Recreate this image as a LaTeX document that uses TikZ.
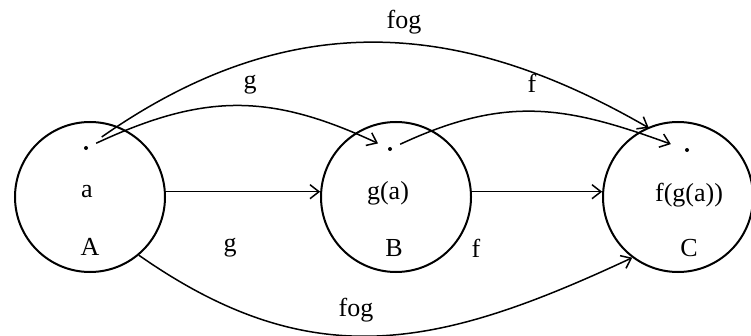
\documentclass[tikz,border=0pt]{standalone}
\usepackage{fontspec}
\setmainfont{Liberation Serif}
\usetikzlibrary{arrows.meta}

\begin{document}
\begin{tikzpicture}[x=1pt, y=1pt, font=\fontsize{26}{30}\selectfont,
  set/.style={draw, circle, line width=2pt, minimum size=150pt, inner sep=0pt},
  elem/.style={circle, fill, inner sep=0pt, minimum size=4pt},
  map/.style={line width=1.5pt, -{Straight Barb[length=9pt, width=14pt]}}]

  \useasboundingbox (0,0) rectangle (751,335);

  % the three sets
  \foreach \nm/\x in {A/90, B/396, C/678}
    \node[set] (\nm) at (\x,138) {};

  % one element in each set
  \foreach \nm/\x/\y in {da/86/187, db/390/186, dc/687/185}
    \node[elem] (\nm) at (\x,\y) {};

  \foreach \nm/\x/\y/\txt in {
    ta/87/143/a, tga/388/142/g(a), tfga/689/140/f(g(a)),
    nA/90/88/A, nB/394/87/B, nC/689/87/C
  } {
    \node (\nm) at (\x,\y) {\txt};
  }

  % set maps
  \draw[map] (A.4) -- (B.176);
  \draw[map] (B.4) -- (C.176);
  \draw[map] (A.-50) to[out=-35, in=205, looseness=1.1] (C.233);

  % element maps
  \draw[map, shorten <=9pt, shorten >=11pt] (da) to[out=25, in=155, looseness=1.1] (db);
  \draw[map, shorten <=9pt, shorten >=15pt] (db) to[out=25, in=160, looseness=1.1] (dc);
  \draw[map, shorten <=17pt, shorten >=42pt] (da) to[out=35, in=150, looseness=1.08] (dc);

  % map names
  \foreach \nm/\x/\y/\txt in {
    lfogt/404/313/fog, lgt/250/250/g, lft/532/252/f,
    lgb/230/87/g, lfb/476/87/f, lfogb/356/25/fog
  } {
    \node (\nm) at (\x,\y) {\txt};
  }
\end{tikzpicture}
\end{document}
